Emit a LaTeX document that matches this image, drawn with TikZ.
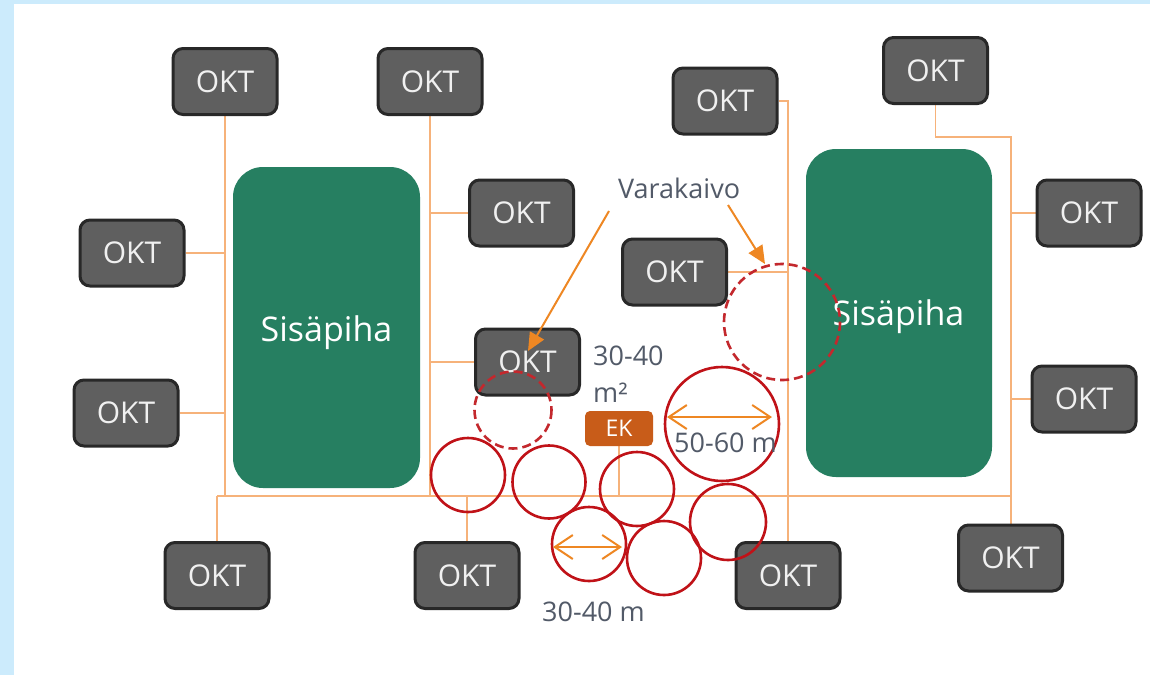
\documentclass[tikz,border=0pt]{standalone}
\usepackage{fontspec}
\setmainfont{Open Sans}
\usetikzlibrary{arrows.meta}
\definecolor{bgblue}{RGB}{204,235,252}
\definecolor{oktfill}{RGB}{95,95,95}
\definecolor{oktdraw}{RGB}{40,40,40}
\definecolor{yard}{RGB}{38,127,97}
\definecolor{pipe}{RGB}{246,178,122}
\definecolor{arr}{RGB}{238,135,35}
\definecolor{ekfill}{RGB}{200,92,25}
\definecolor{ring}{RGB}{192,18,24}
\definecolor{ringd}{RGB}{195,40,45}
\definecolor{lbl}{RGB}{82,90,104}
\pgfdeclarelayer{bg}
\pgfsetlayers{bg,main}
\begin{document}
\begin{tikzpicture}[x=1pt,y=-1pt,
  okt/.style={draw=oktdraw, fill=oktfill, line width=3pt, rounded corners=10pt,
    minimum width=104pt, minimum height=66pt, inner sep=0pt, text=white!94!black,
    font=\fontsize{30}{30}\selectfont},
  yardbox/.style={fill=yard, rounded corners=30pt, inner sep=0pt},
  yardtext/.style={text=white, font=\fontsize{34}{36}\selectfont, anchor=base, inner sep=0pt},
  ekbox/.style={fill=ekfill, rounded corners=5pt, minimum width=68pt, minimum height=35pt,
    inner sep=0pt, text=white, font=\fontsize{23}{24}\selectfont},
  pipeline/.style={draw=pipe, line width=1.8pt},
  ringline/.style={draw=ring, line width=2.6pt},
  ringdash/.style={draw=ringd, line width=2.6pt, dash pattern=on 9pt off 5pt},
  dimarrow/.style={draw=arr, line width=2pt,
    {Straight Barb[length=18pt,width=24pt]}-{Straight Barb[length=18pt,width=24pt]}},
  pointer/.style={draw=arr, line width=2pt, -{Triangle[length=18pt,width=16pt]}},
  lbltext/.style={text=lbl, font=\fontsize{27}{28}\selectfont, anchor=base west, inner sep=0pt}
]
\useasboundingbox (0,0) rectangle (1150,675);
\begin{pgfonlayer}{bg}
\fill[bgblue] (0,0) rectangle (1150,675);
\fill[white] (14,4) rectangle (1150,675);
\end{pgfonlayer}

% courtyards
\node[yardbox, minimum width=187pt, minimum height=321pt] (y1) at (326.5,327.5) {};
\node[yardbox, minimum width=186pt, minimum height=328pt] (y2) at (899,313) {};
\node[yardtext] (y1t) at (326.5,341) {Sisäpiha};
\node[yardtext] (y2t) at (898.5,325) {Sisäpiha};

% houses
\node[okt] (a1) at (225,81.5) {OKT};
\node[okt] (a2) at (132,253) {OKT};
\node[okt] (a3) at (126,413) {OKT};
\node[okt] (a4) at (217,575.5) {OKT};
\node[okt] (b1) at (430,81.5) {OKT};
\node[okt] (b2) at (521.5,213) {OKT};
\node[okt] (b3) at (527.5,362) {OKT};
\node[okt] (b4) at (467,575.5) {OKT};
\node[okt] (c1) at (725,101) {OKT};
\node[okt] (c2) at (674.5,272) {OKT};
\node[okt] (c3) at (788,575.5) {OKT};
\node[okt] (d1) at (935.5,70.5) {OKT};
\node[okt] (d2) at (1089,213) {OKT};
\node[okt] (d3) at (1084,399) {OKT};
\node[okt] (d4) at (1010.5,558) {OKT};
\node[ekbox] (ek) at (619,428.5) {EK};

% pipe network
\coordinate (busl) at (217,496);
\coordinate (busr) at (1011,496);
\coordinate (dk) at (1011,137);
\begin{pgfonlayer}{bg}
\draw[pipeline] (busl) -- (busr);
\draw[pipeline] (a1.south) -- (a1.south |- busl);
\draw[pipeline] (a2.east) -- (a2.east -| a1.south);
\draw[pipeline] (a3.east) -- (a3.east -| a1.south);
\draw[pipeline] (a4.north) -- (a4.north |- busl);
\draw[pipeline] (b1.south) -- (b1.south |- busl);
\draw[pipeline] (b2.west) -- (b2.west -| b1.south);
\draw[pipeline] (b3.west) -- (b3.west -| b1.south);
\draw[pipeline] (b4.north) -- (b4.north |- busl);
\draw[pipeline] (ek.south) -- (ek.south |- busl);
\draw[pipeline] (c1.east) -| (c3.north);
\draw[pipeline] (c2.east) -- (c2.east -| c3.north);
\draw[pipeline] (d1.south) |- (dk) -- (dk |- d4.north);
\draw[pipeline] (d2.west) -- (d2.west -| dk);
\draw[pipeline] (d3.west) -- (d3.west -| dk);
\end{pgfonlayer}

% wells
\draw[ringline] (468,475) circle[radius=37];
\draw[ringline] (549,482) circle[radius=36.5];
\draw[ringline] (637,489) circle[radius=37];
\draw[ringline] (589,544) circle[radius=37];
\draw[ringline] (664,558) circle[radius=37];
\draw[ringline] (728,522) circle[radius=38];
\draw[ringline] (722,424) circle[radius=57];
\draw[ringdash] (513,410) circle[radius=38.5];
\draw[ringdash] (782,322) circle[radius=58];

% dimension arrows
\coordinate (g1) at (667,417);
\coordinate (g2) at (772,417);
\coordinate (s1) at (553,547);
\coordinate (s2) at (622,547);
\draw[dimarrow] (g1) -- (g2);
\draw[dimarrow] (s1) -- (s2);

% labels
\node[lbltext] (vk) at (618,198) {Varakaivo};
\coordinate (p1) at (609,211);
\coordinate (t1) at (528,351);
\coordinate (p2) at (728,205);
\coordinate (t2) at (765,264);
\draw[pointer] (p1) -- (t1);
\draw[pointer] (p2) -- (t2);
\node[lbltext] (ar1) at (593,365) {30-40};
\node[lbltext] (ar2) at (593,402) {m²};
\node[lbltext] (dl) at (674,452) {50-60 m};
\node[lbltext] (ds) at (542,621) {30-40 m};
\end{tikzpicture}
\end{document}
